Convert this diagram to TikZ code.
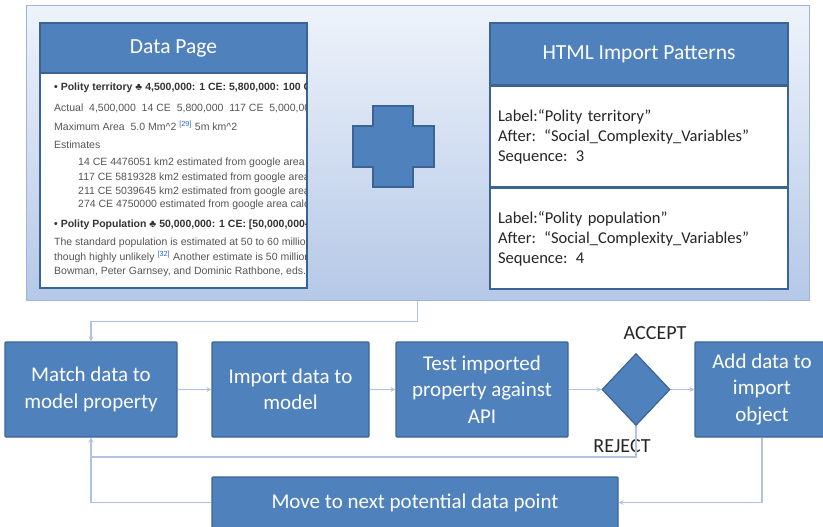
\documentclass[tikz,border=0pt]{standalone}
\usepackage{fontspec}
\setmainfont{Carlito}
\newfontfamily\wikifont{Liberation Sans}
\usetikzlibrary{arrows.meta,positioning,shapes.geometric}
\definecolor{boxblue}{HTML}{4F81BD}
\definecolor{boxline}{HTML}{3A6496}
\definecolor{flowline}{HTML}{AFC4E0}
\definecolor{paneltop}{HTML}{EEF3FA}
\definecolor{panelbot}{HTML}{B5C8E7}
\definecolor{panelline}{HTML}{9DB4D6}
\definecolor{wikigray}{HTML}{555555}
\definecolor{linkblue}{HTML}{3366CC}

\begin{document}
\begin{tikzpicture}[x=1pt, y=-1pt, >={Stealth[length=5pt,width=5pt]},
  every node/.style={inner sep=0pt},
  stepbox/.style={draw=boxline, fill=boxblue, line width=1.2pt, rounded corners=1pt, text=white,
    align=center, font=\fontsize{21}{26.5}\selectfont, minimum height=95},
  headbox/.style={draw=boxline, fill=boxblue, line width=1.5pt, text=white, font=\fontsize{21.5}{26}\selectfont},
  patbox/.style={draw=boxline, fill=white, line width=1.5pt, minimum width=298, minimum height=100,
    text width=282, inner xsep=8pt, align=left, font=\fontsize{16.5}{20}\selectfont, text=black!85},
  wiki/.style={anchor=west, font=\wikifont\fontsize{10.5}{12}\selectfont, text=wikigray},
  wikibold/.style={wiki, font=\wikifont\bfseries\fontsize{10.5}{12}\selectfont, text=black!80},
  flow/.style={draw=flowline, line width=1.3pt, ->},
  tag/.style={font=\fontsize{20}{24}\selectfont, text=black!85}]
\useasboundingbox (0,0) rectangle (823,527);

\node[minimum width=783, minimum height=294, top color=paneltop, bottom color=panelbot,
  draw=panelline, line width=1pt] (panel) at (417.5,153) {};

\node[draw=boxline, fill=white, line width=1.5pt, minimum width=267, minimum height=265] (page) at (173.5,155.5) {};
\node[headbox, minimum width=267, minimum height=50, anchor=north] (pagehead) at (page.north) {Data Page};
\begin{scope}
\clip (41,74) rectangle (306,287);
\node[wikibold] (terr) at (54,88) {• Polity territory ♣ 4,500,000: 1 CE: 5,800,000: 100 CE: 5,000,000};
\node[wiki] (actual) at (54,108) {Actual\ \ 4,500,000\ \ 14 CE\ \ 5,800,000\ \ 117 CE\ \ 5,000,000};
\node[wiki] (maxarea) at (54,126) {Maximum Area\ \ 5.0 Mm\^{}2 \textsuperscript{\color{linkblue}[29]} 5m km\^{}2};
\node[wiki] (est) at (54,145) {Estimates};
\node[wiki] (est14) at (78,163) {14 CE 4476051 km2 estimated from google area calculator};
\node[wiki] (est117) at (78,178) {117 CE 5819328 km2 estimated from google area calculator};
\node[wiki] (est211) at (78,192) {211 CE 5039645 km2 estimated from google area calculator};
\node[wiki] (est274) at (78,205) {274 CE 4750000 estimated from google area calculator};
\node[wikibold] (pop) at (54,225) {• Polity Population ♣ 50,000,000: 1 CE: [50,000,000-60,000,000]};
\node[wiki] (std) at (54,243) {The standard population is estimated at 50 to 60 million};
\node[wiki] (though) at (54,257) {though highly unlikely \textsuperscript{\color{linkblue}[32]} Another estimate is 50 million};
\node[wiki] (bowman) at (54,272) {Bowman, Peter Garnsey, and Dominic Rathbone, eds.};
\end{scope}

\draw[draw=boxline, fill=boxblue, line width=1.2pt] (373,106) -- (413,106) -- (413,126) -- (434,126)
  -- (434,167) -- (413,167) -- (413,187) -- (373,187) -- (373,167) -- (353,167) -- (353,126) -- (373,126) -- cycle;

\node[draw=boxline, fill=white, line width=1.5pt, minimum width=298, minimum height=263] (html) at (639,154.5) {};
\node[headbox, minimum width=298, minimum height=62, anchor=north] (htmlhead) at (html.north) {HTML Import Patterns};
\node[patbox, below=0pt of htmlhead] (pat1) {Label:“Polity territory”\\After: “Social\_Complexity\_Variables”\\Sequence: 3};
\node[patbox, below=0pt of pat1, minimum height=101] (pat2) {Label:“Polity population”\\After: “Social\_Complexity\_Variables”\\Sequence: 4};

\node[stepbox, minimum width=172] (match) at (91,389.5) {Match data to\\model property};
\node[stepbox, minimum width=157] (import) at (290.5,389.5) {Import data to\\model};
\node[stepbox, minimum width=172] (test) at (482,389.5) {Test imported\\property against\\API};
\node[diamond, draw=boxline, fill=boxblue, line width=1.2pt, minimum width=68, minimum height=72] (check) at (636,389.5) {};
\node[stepbox, minimum width=134] (add) at (762,389.5) {Add data to\\import\\object};
\node[stepbox, minimum width=406, minimum height=51] (move) at (415,502.5) {Move to next potential data point};
\node[tag] (accept) at (655,333) {ACCEPT};
\node[tag] (reject) at (622,446) {REJECT};

\draw[flow] (panel.south) -- ++(0,21) -| (match.north);
\draw[flow] (match) -- (import);
\draw[flow] (import) -- (test);
\draw[flow] (test) -- (check);
\draw[flow] (check) -- (add);
\draw[flow] (check.south) -- ++(0,31) -| (match.south);
\draw[flow] (add.south) |- (move.east);
\draw[flow] (move.west) -| (match.south);
\end{tikzpicture}
\end{document}
